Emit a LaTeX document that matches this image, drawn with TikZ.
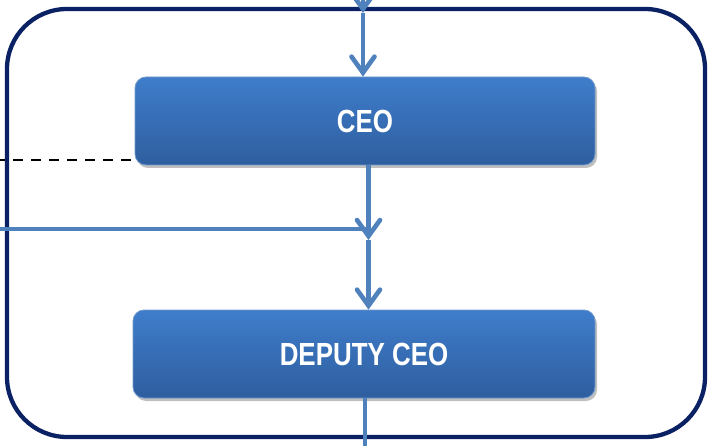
\documentclass[tikz,border=0pt]{standalone}
\usepackage{fontspec}
\newfontfamily\boxfont{Liberation Sans}[FakeStretch=0.81]
\usetikzlibrary{arrows.meta,shadows}
\definecolor{frameblue}{HTML}{0A2263}
\definecolor{lineblue}{HTML}{4F81BD}
\definecolor{boxtop}{HTML}{3F7DCB}
\definecolor{boxbot}{HTML}{2E5E9F}
\tikzset{
  orgbox/.style={rectangle, rounded corners=11pt, minimum width=460pt, minimum height=88pt,
    top color=boxtop, bottom color=boxbot, draw=lineblue!80!white, line width=0.8pt,
    drop shadow={shadow xshift=2pt, shadow yshift=-3pt, opacity=0.25, fill=black},
    text=white, font=\boxfont\bfseries\fontsize{32}{36}\selectfont, inner sep=0pt},
  conn/.style={draw=lineblue, line width=4.6pt},
  tip/.style={-{Straight Barb[length=16pt,width=23pt,line cap=round]}},
  frame/.style={draw=frameblue, line width=4.3pt, rounded corners=60pt},
  dashline/.style={draw=black, line width=2pt, dash pattern=on 10pt off 8pt}
}
\begin{document}
\begin{tikzpicture}[x=1pt,y=-1pt]
\useasboundingbox (0,0) rectangle (709,446);
\draw[frame] (7,9) rectangle (705,437);
\node[orgbox] (ceo) at (365,121) {CEO};
\node[orgbox, minimum width=462pt] (dep) at (364,354) {DEPUTY CEO};
\coordinate (topin) at (363,-30);
\coordinate (topmid) at (363,13);
\coordinate (join) at (368.5,240);
\coordinate (leftin) at (-5,229);
\coordinate (dashin) at (-5,160);
\coordinate (botout) at (365,460);
\draw[conn,tip] (topin) -- (topmid);
\draw[conn,tip] (topmid) -- (ceo.north -| topmid);
\draw[dashline] (dashin) -- (dashin -| ceo.west);
\draw[conn] (leftin) -- (leftin -| join);
\draw[conn,tip] (ceo.south -| join) -- (join);
\draw[conn,tip] (join) -- (dep.north -| join);
\draw[conn] (dep.south -| botout) -- (botout);
\end{tikzpicture}
\end{document}
